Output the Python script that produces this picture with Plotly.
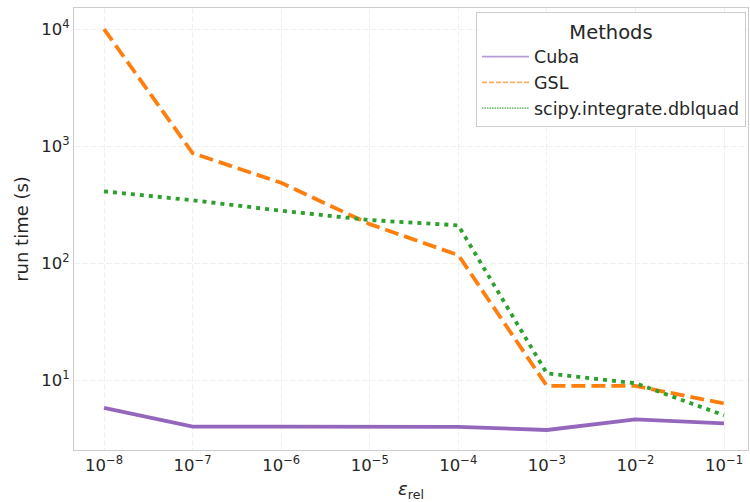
import plotly.graph_objects as go

eps = [1e-8, 1e-7, 1e-6, 1e-5, 1e-4, 1e-3, 1e-2, 1e-1]
cuba = [5.77, 3.99, 4.0, 4.0, 3.98, 3.74, 4.61, 4.26]
gsl = [10000, 870, 485, 215, 117, 8.9, 8.9, 6.3]
scipy_dbl = [410, 344, 280, 233, 210, 11.4, 9.4, 5.0]

x_tickvals = eps
x_ticktext = ["10<sup>−8</sup>", "10<sup>−7</sup>", "10<sup>−6</sup>", "10<sup>−5</sup>",
              "10<sup>−4</sup>", "10<sup>−3</sup>", "10<sup>−2</sup>", "10<sup>−1</sup>"]
y_tickvals = [10, 100, 1000, 10000]
y_ticktext = ["10<sup>1</sup>", "10<sup>2</sup>", "10<sup>3</sup>", "10<sup>4</sup>"]

names = ["Cuba", "GSL", "scipy.integrate.dblquad"]
colors = ["#9467bd", "#ff7f0e", "#2ca02c"]
dashes = ["solid", "14px,6px", "4px,5px"]
legend_dashes = ["solid", "5px,2px", "1.5px,1px"]
series = [cuba, gsl, scipy_dbl]

fig = go.Figure()
for name, col, d, ys in zip(names, colors, dashes, series):
    fig.add_trace(go.Scatter(x=eps, y=ys, mode="lines", name=name, showlegend=False,
                             line=dict(color=col, width=3.8, dash=d)))
for i, (name, col, d) in enumerate(zip(names, colors, legend_dashes)):
    fig.add_trace(go.Scatter(x=[None], y=[None], mode="lines", name=name,
                             legendgroup=f"g{i}",
                             line=dict(color=col, width=1.6, dash=d), opacity=0.65))

font_col = "#262626"
grid_style = dict(showgrid=True, gridcolor="#f0f0f0", griddash="6px,2px", gridwidth=1,
                  showline=True, linecolor="#cccccc", linewidth=1, mirror=True,
                  ticks="", zeroline=False)
fig.update_layout(
    template="none",
    width=750, height=502,
    margin=dict(l=74, r=2, t=8, b=52, autoexpand=False),
    paper_bgcolor="white", plot_bgcolor="white",
    font=dict(family="DejaVu Sans, sans-serif", color=font_col, size=16),
    legend=dict(
        title=dict(text="Methods", side="top center", font=dict(size=19.5)),
        x=0.997, xanchor="right", y=0.99, yanchor="top",
        bordercolor="#cccccc", borderwidth=1, bgcolor="rgba(255,255,255,0.85)",
        font=dict(size=17.5), itemwidth=47, traceorder="grouped", tracegroupgap=0,
    ),
    xaxis=dict(
        type="log", range=[-8.339, -0.729], automargin=False,
        tickvals=x_tickvals, ticktext=x_ticktext,
        tickfont=dict(size=16.5),
        title=dict(text="<i>ε</i><sub>rel</sub>", font=dict(size=18), standoff=8),
        **grid_style,
    ),
    yaxis=dict(
        type="log", range=[0.402, 4.18], automargin=False,
        tickvals=y_tickvals, ticktext=y_ticktext,
        tickfont=dict(size=16.5),
        title=dict(text="run time (s)", font=dict(size=18), standoff=8),
        **grid_style,
    ),
)

fig.write_html("out.html", config={"displayModeBar": False},
               post_script="document.body.style.margin='0';document.body.style.overflow='hidden';")
